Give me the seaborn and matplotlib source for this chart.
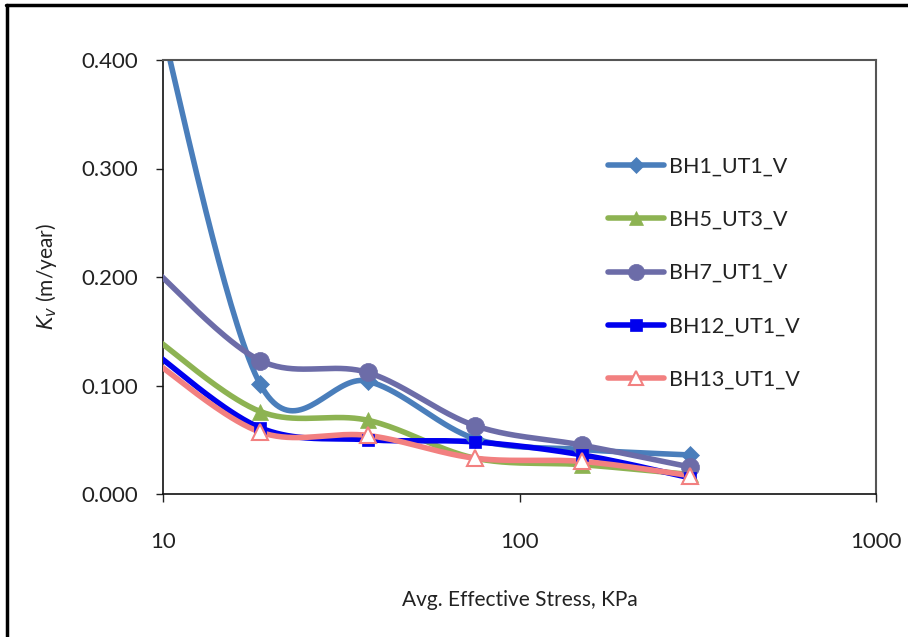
import numpy as np
import pandas as pd
import matplotlib
matplotlib.use("Agg")
import matplotlib.pyplot as plt
from matplotlib.lines import Line2D
import seaborn as sns

# ---- data ----
stress = [9.375, 18.75, 37.5, 75, 150, 300]
series_names = ["BH1_UT1_V", "BH5_UT3_V", "BH7_UT1_V", "BH12_UT1_V", "BH13_UT1_V"]
bh1 = [0.465, 0.101, 0.104, 0.051, 0.041, 0.036]
bh5 = [0.145, 0.076, 0.068, 0.033, 0.027, 0.018]
bh7 = [0.208, 0.123, 0.112, 0.063, 0.045, 0.025]
bh12 = [0.131, 0.061, 0.050, 0.048, 0.036, 0.015]
bh13 = [0.123, 0.057, 0.054, 0.033, 0.030, 0.017]
values = [bh1, bh5, bh7, bh12, bh13]
x_ticks = [10, 100, 1000]
y_ticks = [0.0, 0.1, 0.2, 0.3, 0.4]

colors = ["#4a7ebb", "#8db352", "#6c6ca8", "#0000ee", "#f28080"]
markers = ["D", "^", "o", "s", "^"]
msizes = [9, 11, 13, 9, 11]
faces = ["#4a7ebb", "#8db352", "#6c6ca8", "#0000ee", "white"]

sns.set_theme(style="white")
plt.rcParams["font.family"] = ["Lato", "DejaVu Sans"]

W, H = 908, 637
fig = plt.figure(figsize=(W / 100, H / 100), dpi=100)
ax = fig.add_axes([163 / W, 1 - 494 / H, (876 - 163) / W, (494 - 60) / H])

AXW, AXH = 713.0, 434.0


def smooth(xs, ys, n=40):
    # Catmull-Rom (Excel-like smoothing) in display-proportional space
    u = np.log10(np.asarray(xs, float)) / 2.0 * AXW
    v = np.asarray(ys, float) / 0.4 * AXH
    P = np.column_stack([u, v])
    pts = []
    for i in range(len(P) - 1):
        p0 = P[i - 1] if i > 0 else P[i]
        p1 = P[i]
        p2 = P[i + 1]
        p3 = P[i + 2] if i + 2 < len(P) else P[i + 1]
        c1 = p1 + (p2 - p0) / 6.0
        c2 = p2 - (p3 - p1) / 6.0
        t = np.linspace(0, 1, n, endpoint=(i == len(P) - 2))[:, None]
        b = (1 - t) ** 3 * p1 + 3 * (1 - t) ** 2 * t * c1 + 3 * (1 - t) * t ** 2 * c2 + t ** 3 * p2
        pts.append(b)
    pts = np.vstack(pts)
    return 10 ** (pts[:, 0] / AXW * 2.0), pts[:, 1] / AXH * 0.4


rows = []
for name, ys in zip(series_names, values):
    sx, sy = smooth(stress, ys)
    for k, (a, b) in enumerate(zip(sx, sy)):
        rows.append({"series": name, "x": a, "y": b, "order": k})
curves = pd.DataFrame(rows)
pts = pd.DataFrame({
    "series": np.repeat(series_names, len(stress)),
    "x": stress * len(series_names),
    "y": np.concatenate(values),
})

ax.set_xscale("log")
for i, name in enumerate(series_names):
    sub = curves[curves.series == name]
    sns.lineplot(data=sub, x="x", y="y", sort=False, estimator=None, ax=ax,
                 color=colors[i], lw=4, legend=False, zorder=2 + i)
    p = pts[pts.series == name]
    ax.plot(p.x, p.y, ls="none", marker=markers[i], ms=msizes[i],
            mfc=faces[i], mec=colors[i], mew=1.5 if i == 4 else 0.5, zorder=10 + i,
            clip_on=True)

ax.set_xlim(10, 1000)
ax.set_ylim(0, 0.4)
ax.set_xticks(x_ticks)
ax.set_xticklabels([str(t) for t in x_ticks])
ax.minorticks_off()
ax.xaxis.set_minor_locator(matplotlib.ticker.NullLocator())
ax.set_yticks(y_ticks)
ax.set_yticklabels([f"{t:.3f}" for t in y_ticks])
ax.tick_params(axis="x", direction="out", length=6, width=1, pad=21, labelsize=16,
               colors="#222222", bottom=True)
ax.tick_params(axis="y", direction="out", length=5, width=1, pad=13, labelsize=16,
               colors="#222222", left=True)
for s in ["top", "right"]:
    ax.spines[s].set_color("#555555")
    ax.spines[s].set_linewidth(1.5)
for s in ["left", "bottom"]:
    ax.spines[s].set_color("#111111")
    ax.spines[s].set_linewidth(1.2)

ax.set_xlabel("Avg. Effective Stress, KPa", fontsize=15, color="#222222", labelpad=28)
ax.set_ylabel(r"$K_v$ (m/year)", fontsize=15, color="#222222", labelpad=16)

handles = [Line2D([], [], color=colors[i], lw=4, marker=markers[i], ms=msizes[i] * 0.9,
                  mfc=faces[i], mec=colors[i], mew=1.5 if i == 4 else 0.5)
           for i in range(len(series_names))]
fig.legend(handles, series_names, loc="upper left", bbox_to_anchor=(589 / W, 1 - 137 / H),
           frameon=False, fontsize=15.5, handlelength=2.6, handletextpad=0.2,
           labelspacing=1.55, labelcolor="#222222")

# figure border lines (top and left)
fig.add_artist(Line2D([6 / W, 1], [1 - 5 / H, 1 - 5 / H], color="black", lw=2.5,
                      transform=fig.transFigure))
fig.add_artist(Line2D([7 / W, 7 / W], [0, 1 - 5 / H], color="black", lw=2.5,
                      transform=fig.transFigure))

fig.savefig("out.png", dpi=100)
